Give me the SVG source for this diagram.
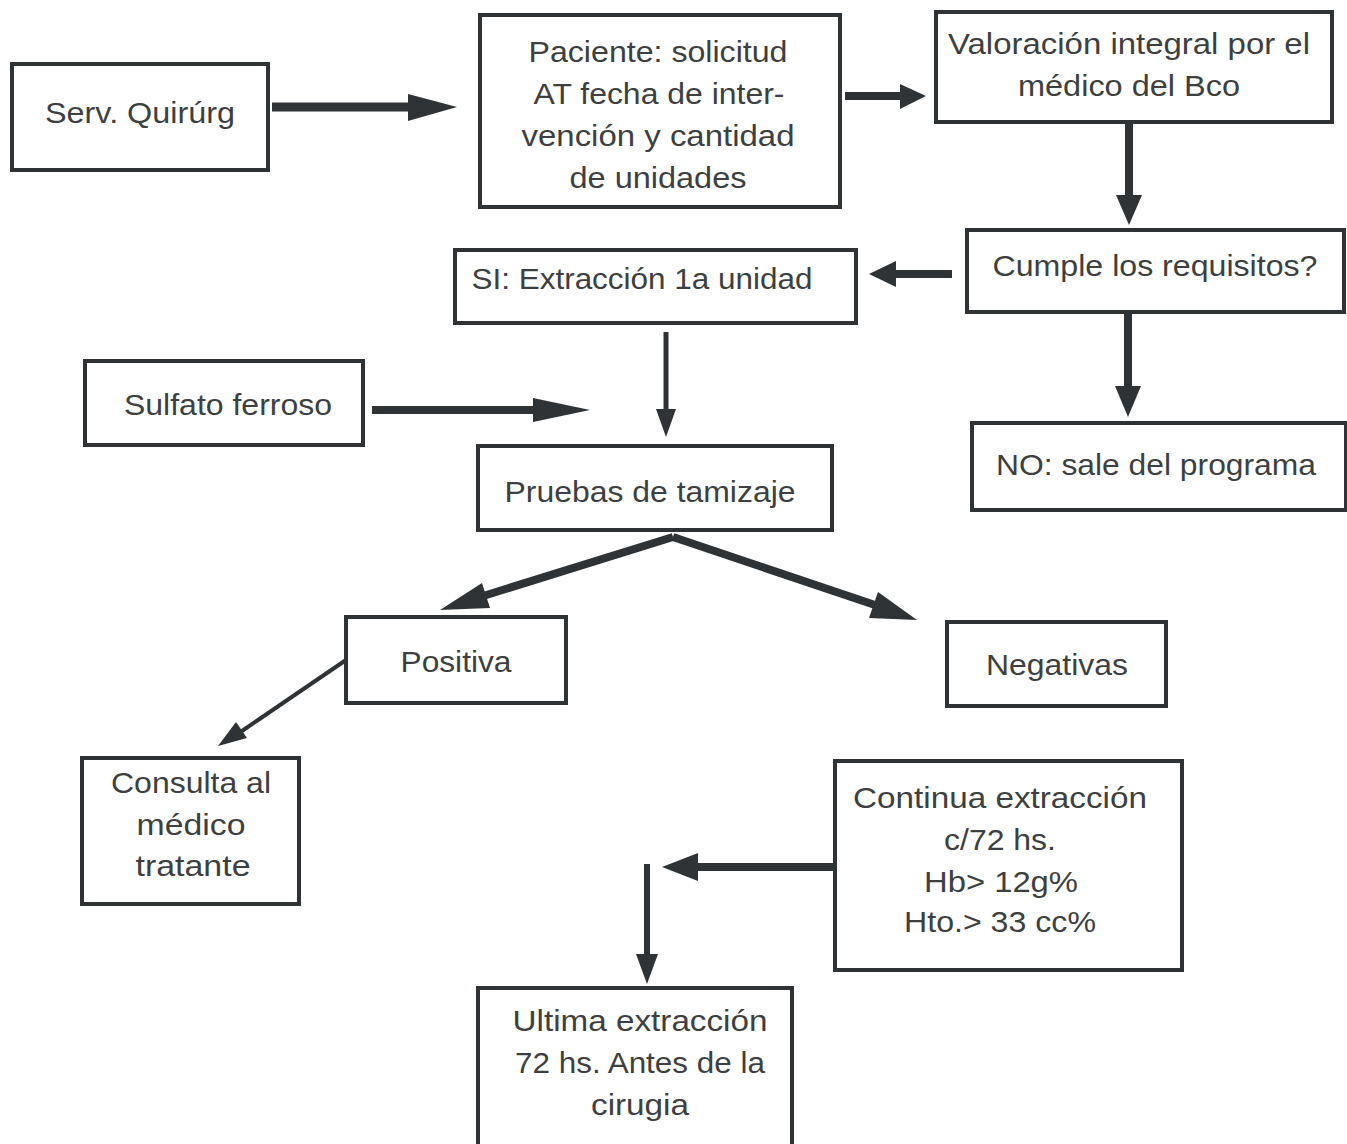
<svg xmlns="http://www.w3.org/2000/svg" width="1347" height="1144" viewBox="0 0 1347 1144">
<style>
.box{fill:#fff;stroke:#2f3335;stroke-width:4}
.t{font-family:"Liberation Sans Narrow","Liberation Sans",Arial,sans-serif;font-size:30px;fill:#3d3f41;text-anchor:middle}
.ln{stroke:#2f3335;fill:none}
.hd{fill:#2f3335}
</style>
<rect width="1347" height="1144" fill="#fff"/>
<g id="connectors">
<line class="ln" x1="272" y1="107" x2="412" y2="107" stroke-width="9"/>
<polygon class="hd" points="408,94 457,107 408,121"/>
<line class="ln" x1="845" y1="96" x2="903" y2="96" stroke-width="8"/>
<polygon class="hd" points="900,84 926,96 900,109"/>
<line class="ln" x1="1129" y1="122" x2="1129" y2="198" stroke-width="8"/>
<polygon class="hd" points="1116,195 1129,225 1142,195"/>
<line class="ln" x1="952" y1="274" x2="893" y2="274" stroke-width="8"/>
<polygon class="hd" points="896,261 869,274 896,287"/>
<line class="ln" x1="1128" y1="312" x2="1128" y2="389" stroke-width="8"/>
<polygon class="hd" points="1115,386 1128,417 1141,386"/>
<line class="ln" x1="666" y1="332" x2="666" y2="412" stroke-width="5"/>
<polygon class="hd" points="656,409 666,437 676,409"/>
<line class="ln" x1="372" y1="410" x2="537" y2="410" stroke-width="8"/>
<polygon class="hd" points="533,398 590,410 533,422"/>
<line class="ln" x1="673" y1="537" x2="480" y2="597" stroke-width="8"/>
<polygon class="hd" points="440,610 482,583 490,608"/>
<line class="ln" x1="673" y1="537" x2="878" y2="606" stroke-width="8"/>
<polygon class="hd" points="917,620 869,618 878,592"/>
<line class="ln" x1="346" y1="660" x2="239" y2="733" stroke-width="4"/>
<polygon class="hd" points="218,746 236,722 247,738"/>
<line class="ln" x1="835" y1="867" x2="694" y2="867" stroke-width="8"/>
<polygon class="hd" points="698,853 662,867 698,881"/>
<line class="ln" x1="647" y1="864" x2="647" y2="957" stroke-width="6"/>
<polygon class="hd" points="636,954 647,984 658,954"/>
</g>
<g id="n-serv"><rect class="box" x="12" y="64" width="256" height="106"/><text class="t" x="140" y="123" textLength="190" lengthAdjust="spacingAndGlyphs">Serv. Quirúrg</text></g>
<g id="n-paciente"><rect class="box" x="480" y="15" width="360" height="192"/>
<text class="t" x="658" y="62" textLength="259" lengthAdjust="spacingAndGlyphs">Paciente: solicitud</text>
<text class="t" x="659" y="104" textLength="251" lengthAdjust="spacingAndGlyphs">AT fecha de inter-</text>
<text class="t" x="658" y="146" textLength="273" lengthAdjust="spacingAndGlyphs">vención y cantidad</text>
<text class="t" x="658" y="188" textLength="177" lengthAdjust="spacingAndGlyphs">de unidades</text></g>
<g id="n-valoracion"><rect class="box" x="936" y="12" width="396" height="110"/>
<text class="t" x="1129" y="54" textLength="362" lengthAdjust="spacingAndGlyphs">Valoración integral por el</text>
<text class="t" x="1129" y="96" textLength="222" lengthAdjust="spacingAndGlyphs">médico del Bco</text></g>
<g id="n-cumple"><rect class="box" x="967" y="230" width="377" height="82"/>
<text class="t" x="1155" y="276" textLength="325" lengthAdjust="spacingAndGlyphs">Cumple los requisitos?</text></g>
<g id="n-si"><rect class="box" x="455" y="250" width="401" height="73"/>
<text class="t" x="642" y="289" textLength="341" lengthAdjust="spacingAndGlyphs">SI: Extracción 1a unidad</text></g>
<g id="n-no"><rect class="box" x="972" y="423" width="374" height="87"/>
<text class="t" x="1156" y="475" textLength="320" lengthAdjust="spacingAndGlyphs">NO: sale del programa</text></g>
<g id="n-sulfato"><rect class="box" x="85" y="361" width="278" height="84"/>
<text class="t" x="228" y="415" textLength="208" lengthAdjust="spacingAndGlyphs">Sulfato ferroso</text></g>
<g id="n-pruebas"><rect class="box" x="478" y="446" width="354" height="84"/>
<text class="t" x="650" y="502" textLength="291" lengthAdjust="spacingAndGlyphs">Pruebas de tamizaje</text></g>
<g id="n-positiva"><rect class="box" x="346" y="617" width="220" height="86"/>
<text class="t" x="456" y="672" textLength="111" lengthAdjust="spacingAndGlyphs">Positiva</text></g>
<g id="n-negativas"><rect class="box" x="947" y="622" width="219" height="84"/>
<text class="t" x="1057" y="675" textLength="142" lengthAdjust="spacingAndGlyphs">Negativas</text></g>
<g id="n-consulta"><rect class="box" x="82" y="758" width="217" height="146"/>
<text class="t" x="191" y="793" textLength="160" lengthAdjust="spacingAndGlyphs">Consulta al</text>
<text class="t" x="191" y="835" textLength="109" lengthAdjust="spacingAndGlyphs">médico</text>
<text class="t" x="193" y="876" textLength="115" lengthAdjust="spacingAndGlyphs">tratante</text></g>
<g id="n-continua"><rect class="box" x="835" y="761" width="347" height="209"/>
<text class="t" x="1000" y="808" textLength="294" lengthAdjust="spacingAndGlyphs">Continua extracción</text>
<text class="t" x="1000" y="850" textLength="112" lengthAdjust="spacingAndGlyphs">c/72 hs.</text>
<text class="t" x="1001" y="892" textLength="154" lengthAdjust="spacingAndGlyphs">Hb&gt; 12g%</text>
<text class="t" x="1000" y="932" textLength="192" lengthAdjust="spacingAndGlyphs">Hto.&gt; 33 cc%</text></g>
<g id="n-ultima"><rect class="box" x="478" y="988" width="314" height="170"/>
<text class="t" x="640" y="1031" textLength="255" lengthAdjust="spacingAndGlyphs">Ultima extracción</text>
<text class="t" x="640" y="1073" textLength="250" lengthAdjust="spacingAndGlyphs">72 hs. Antes de la</text>
<text class="t" x="640" y="1115" textLength="98" lengthAdjust="spacingAndGlyphs">cirugia</text></g>
</svg>
